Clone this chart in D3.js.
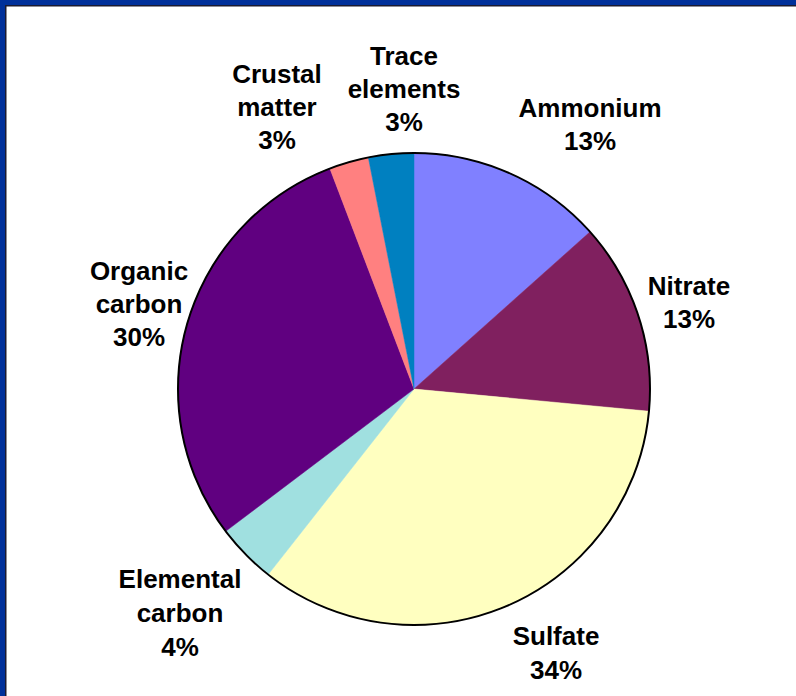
<!DOCTYPE html>
<html>
<head>
<meta charset="utf-8">
<script src="https://cdn.jsdelivr.net/npm/d3@7"></script>
<style>
html,body{margin:0;padding:0;background:#fff;}
svg{display:block;}
</style>
</head>
<body>
<svg id="chart" width="796" height="696"></svg>
<script>
const categories = ["Ammonium","Nitrate","Sulfate","Elemental carbon","Organic carbon","Crustal matter","Trace elements"];
const values = [13.4, 13.1, 34.1, 4.1, 29.5, 2.7, 3.1];
const colors = ["#8080FF","#80205F","#FFFFC0","#A0E0E0","#600080","#FF8080","#0080C0"];
const labelLines = [["Ammonium"],["Nitrate"],["Sulfate"],["Elemental","carbon"],["Organic","carbon"],["Crustal","matter"],["Trace","elements"]];

// layout (not data)
const labelPos = [
  {x:590, y:117, dy:33},
  {x:689, y:295, dy:33},
  {x:556, y:645, dy:34},
  {x:180, y:588, dy:34},
  {x:139, y:280, dy:33},
  {x:277, y:83, dy:33},
  {x:404, y:65, dy:33}
];

const svg = d3.select("#chart");
const W = 796, H = 696;
svg.append("rect").attr("x",0).attr("y",0).attr("width",W).attr("height",H).attr("fill","#fff");
// frame
svg.append("rect").attr("x",0).attr("y",0).attr("width",W).attr("height",5).attr("fill","#00309A");
svg.append("rect").attr("x",0).attr("y",0).attr("width",5).attr("height",H).attr("fill","#00309A");
svg.append("rect").attr("x",5).attr("y",5).attr("width",W-5).attr("height",1.5).attr("fill","#1b1b30");
svg.append("rect").attr("x",5).attr("y",5).attr("width",1.5).attr("height",H-5).attr("fill","#1b1b30");

const cx = 414, cy = 389, R = 236;
const total = d3.sum(values);
const pie = d3.pie().sort(null).value(d => d)(values);
const arc = d3.arc().innerRadius(0).outerRadius(R);
const g = svg.append("g").attr("transform", `translate(${cx},${cy})`);
g.selectAll("path.slice").data(pie).join("path")
  .attr("class","slice")
  .attr("d", arc)
  .attr("fill", (d,i) => colors[i])
  .attr("stroke", (d,i) => colors[i])
  .attr("stroke-width", 0.5);
g.append("circle").attr("r", R).attr("fill","none").attr("stroke","#000").attr("stroke-width",2);

const labels = svg.append("g")
  .attr("font-family","'Liberation Sans', Arial, sans-serif")
  .attr("font-weight","bold")
  .attr("font-size","26px")
  .attr("fill","#000")
  .attr("text-anchor","middle");
categories.forEach((c,i) => {
  const lines = labelLines[i].concat([Math.round(values[i]/total*100) + "%"]);
  const p = labelPos[i];
  const t = labels.append("text").attr("x", p.x).attr("y", p.y);
  lines.forEach((ln,j) => {
    t.append("tspan").attr("x", p.x).attr("y", p.y + j*p.dy).text(ln);
  });
});
</script>
</body>
</html>
